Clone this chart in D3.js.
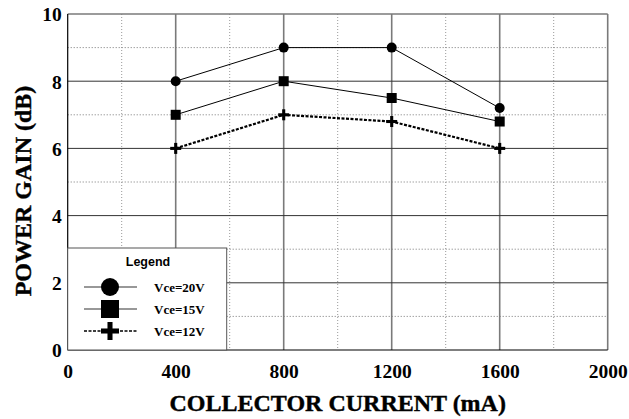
<!DOCTYPE html>
<html><head><meta charset="utf-8">
<script src="https://cdn.jsdelivr.net/npm/d3@7"></script>
<style>body{margin:0;background:#fff}svg{display:block}
.tk text{font-family:'Liberation Serif','Times New Roman',serif !important;font-weight:bold;font-size:19.5px}</style>
</head><body>
<svg id="c" width="629" height="419"></svg>
<script>
const currents = [400, 800, 1200, 1600];
const gain20 = [8, 9, 9, 7.2];
const gain15 = [7, 8, 7.5, 6.8];
const gain12 = [6, 7, 6.8, 6];
const seriesNames = ["Vce=20V", "Vce=15V", "Vce=12V"];
const xTicks = [0, 400, 800, 1200, 1600, 2000];
const yTicks = [0, 2, 4, 6, 8, 10];
const xMinor = [200, 600, 1000, 1400, 1800];
const yMinor = [1, 3, 5, 7, 9];

const svg = d3.select("#c");
const L = 67.7, R = 607.7, T = 14, B = 350;
const x = d3.scaleLinear().domain([0, 2000]).range([L, R]);
const y = d3.scaleLinear().domain([0, 10]).range([B, T]);
const serif = "'Liberation Serif','Times New Roman',serif";

const g = svg.append("g");
// minor grid
g.selectAll(".vm").data(xMinor).enter().append("line")
  .attr("x1", d => x(d)).attr("x2", d => x(d)).attr("y1", T).attr("y2", B)
  .attr("stroke", "#999").attr("stroke-width", 1).attr("stroke-dasharray", "1,2");
g.selectAll(".hm").data(yMinor).enter().append("line")
  .attr("y1", d => y(d)).attr("y2", d => y(d)).attr("x1", L).attr("x2", R)
  .attr("stroke", "#777").attr("stroke-width", 1).attr("stroke-dasharray", "1,2");
// major grid
g.selectAll(".vM").data(xTicks.slice(1)).enter().append("line")
  .attr("x1", d => x(d)).attr("x2", d => x(d)).attr("y1", T).attr("y2", B)
  .attr("stroke", "#7a7a7a").attr("stroke-width", 1.6);
g.selectAll(".hM").data(yTicks.slice(1)).enter().append("line")
  .attr("y1", d => y(d)).attr("y2", d => y(d)).attr("x1", L).attr("x2", R)
  .attr("stroke", d => d === 10 ? "#7a7a7a" : "#333").attr("stroke-width", d => d === 10 ? 1.6 : 1);
// axes
g.append("line").attr("x1", L).attr("x2", L).attr("y1", T).attr("y2", B).attr("stroke", "#000").attr("stroke-width", 1.2);
g.append("line").attr("x1", L).attr("x2", R).attr("y1", B).attr("y2", B).attr("stroke", "#000").attr("stroke-width", 1.2);

// tick labels via axes
const xAxis = svg.append("g").attr("class", "tk").attr("transform", `translate(0,${B})`)
  .call(d3.axisBottom(x).tickValues(xTicks).tickFormat(d3.format("d")).tickSize(0).tickPadding(0));
xAxis.attr("font-family", serif).attr("font-size", null);
xAxis.select(".domain").remove();
xAxis.selectAll("text").attr("dy", null).attr("y", 28).attr("fill", "#000");
const yAxis = svg.append("g").attr("class", "tk").attr("transform", `translate(${L},0)`)
  .call(d3.axisLeft(y).tickValues(yTicks).tickFormat(d3.format("d")).tickSize(0).tickPadding(6));
yAxis.attr("font-family", serif).attr("font-size", null);
yAxis.select(".domain").remove();
yAxis.selectAll("text").attr("dy", "0.35em").attr("fill", "#000");

// titles
svg.append("text").attr("x", (L + R) / 2).attr("y", 411).attr("text-anchor", "middle")
  .style("font-family", serif).style("font-weight", "bold").style("font-size", "24px")
  .attr("stroke", "#000").attr("stroke-width", 0.4)
  .text("COLLECTOR CURRENT (mA)");
svg.append("text").attr("transform", `translate(31,${(82 + 300) / 2}) rotate(-90)`).attr("text-anchor", "middle")
  .style("font-family", serif).style("font-weight", "bold").style("font-size", "24px")
  .attr("stroke", "#000").attr("stroke-width", 0.4)
  .text("POWER GAIN (dB)");

// series
const series = [
  {vals: gain20, shape: "circle", dash: null, w: 1},
  {vals: gain15, shape: "square", dash: null, w: 1},
  {vals: gain12, shape: "plus", dash: "3,1.5", w: 2.2}
];
const line = d3.line().x(d => x(d[0])).y(d => y(d[1]));
function marker(sel, shape, cx, cy, s) {
  if (shape === "circle") sel.append("circle").attr("cx", cx).attr("cy", cy).attr("r", s / 2).attr("fill", "#000");
  else if (shape === "square") sel.append("rect").attr("x", cx - s / 2).attr("y", cy - s / 2).attr("width", s).attr("height", s).attr("fill", "#000");
  else {
    const t = s * 0.28;
    sel.append("rect").attr("x", cx - s / 2).attr("y", cy - t / 2).attr("width", s).attr("height", t).attr("fill", "#000");
    sel.append("rect").attr("x", cx - t / 2).attr("y", cy - s / 2).attr("width", t).attr("height", s).attr("fill", "#000");
  }
}
series.forEach(s => {
  const pts = currents.map((c, i) => [c, s.vals[i]]);
  svg.append("path").attr("d", line(pts)).attr("fill", "none").attr("stroke", "#000")
    .attr("stroke-width", s.w).attr("stroke-dasharray", s.dash);
  const mg = svg.append("g");
  pts.forEach(p => marker(mg, s.shape, x(p[0]), y(p[1]), s.shape === "plus" ? 11 : 10));
});

// legend
const lg = svg.append("g");
lg.append("rect").attr("x", 67.7).attr("y", 248).attr("width", 159).attr("height", 102)
  .attr("fill", "#fff").attr("stroke", "#555").attr("stroke-width", 1);
lg.append("text").attr("x", 148).attr("y", 266).attr("text-anchor", "middle")
  .style("font-family", "'Liberation Sans',Arial,sans-serif").style("font-weight", "bold").style("font-size", "12.5px")
  .text("Legend");
const ly = [287, 309, 331];
series.forEach((s, i) => {
  lg.append("line").attr("x1", 84).attr("x2", 137).attr("y1", ly[i]).attr("y2", ly[i])
    .attr("stroke", s.dash ? "#000" : "#333").attr("stroke-width", s.dash ? 1.5 : 1.2).attr("stroke-dasharray", s.dash ? "3,1.5" : null);
  marker(lg, s.shape, 110, ly[i], 18);
  lg.append("text").attr("x", 154).attr("y", ly[i] + 4.5)
    .style("font-family", serif).style("font-weight", "bold").style("font-size", "13px").text(seriesNames[i]);
});
</script>
</body></html>
